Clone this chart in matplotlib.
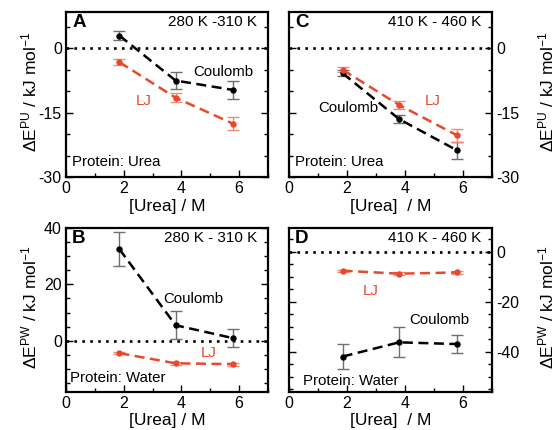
import matplotlib
matplotlib.use("Agg")
import matplotlib.pyplot as plt
from matplotlib.ticker import MultipleLocator

plt.rcParams['font.family'] = ['Liberation Sans', 'DejaVu Sans']
plt.rcParams['mathtext.fontset'] = 'custom'
plt.rcParams['mathtext.rm'] = 'Liberation Sans'
plt.rcParams['mathtext.it'] = 'Liberation Sans:italic'
plt.rcParams['mathtext.bf'] = 'Liberation Sans:bold'
plt.rcParams['axes.unicode_minus'] = False

# ---------------- data ----------------
urea = [1.85, 3.8, 5.8]

# Panel A: protein-urea, 280-310 K
A_coul = [3.0, -7.5, -9.7]
A_coul_err = [1.0, 2.0, 2.2]
A_lj = [-3.2, -11.5, -17.6]
A_lj_err = [0.7, 1.0, 1.5]

# Panel C: protein-urea, 410-460 K
C_coul = [-5.8, -16.5, -23.8]
C_coul_err = [0.7, 1.0, 2.0]
C_lj = [-5.0, -13.2, -20.3]
C_lj_err = [0.6, 1.0, 1.5]

# Panel B: protein-water, 280-310 K
B_coul = [32.5, 5.5, 0.9]
B_coul_err = [6.0, 5.0, 3.2]
B_lj = [-4.4, -8.0, -8.3]
B_lj_err = [0.4, 0.5, 0.5]

# Panel D: protein-water, 410-460 K
D_coul = [-42.0, -36.3, -37.0]
D_coul_err = [5.0, 6.0, 3.7]
D_lj = [-7.6, -8.8, -8.3]
D_lj_err = [0.4, 0.5, 0.5]

xticks = [0, 2, 4, 6]

RED = '#e8482c'
RED_ERR = '#f08a78'
GRAY_ERR = '#6e6e6e'

fig = plt.figure(figsize=(5.6, 4.3), dpi=100)

W = 202 / 560
H = 165 / 430
axA = fig.add_axes([66 / 560, (430 - 177) / 430, W, H])
axC = fig.add_axes([289 / 560, (430 - 177) / 430, 203 / 560, H])
axB = fig.add_axes([66 / 560, (430 - 391.5) / 430, W, 163.5 / 430])
axD = fig.add_axes([289 / 560, (430 - 391.5) / 430, 203 / 560, 163.5 / 430])


def style(ax, ylim, ymajor, yminor, right=False):
    ax.set_xlim(0, 7)
    ax.set_ylim(*ylim)
    ax.set_xticks(xticks)
    ax.xaxis.set_minor_locator(MultipleLocator(1))
    ax.yaxis.set_major_locator(MultipleLocator(ymajor))
    ax.yaxis.set_minor_locator(MultipleLocator(yminor))
    ax.tick_params(which='both', direction='in', left=True, right=True,
                   top=False, bottom=True, labelsize=11.5, width=1.0,
                   labelleft=not right, labelright=right, pad=3)
    ax.tick_params(which='major', length=5)
    ax.tick_params(which='minor', length=3)
    for s in ax.spines.values():
        s.set_linewidth(1.6)
    ax.axhline(0, color='k', ls=(0, (1, 2.0)), lw=1.9, zorder=1)
    ax.set_xlabel('[Urea] / M' if not right else '[Urea]  / M', fontsize=12.5,
                  labelpad=2)


def series(ax, y, err, color, ecolor):
    ax.errorbar(urea, y, yerr=err, color=color, ecolor=ecolor, ls=(0, (4, 2.2)),
                lw=1.8, marker='o', ms=3.6, capsize=4, elinewidth=1.0,
                capthick=1.0, zorder=3)


style(axA, (-30, 8.5), 15, 5)
style(axC, (-30, 8.5), 15, 5, right=True)
style(axB, (-18, 40), 20, 5)
style(axD, (-56, 9.5), 20, 5, right=True)

series(axA, A_coul, A_coul_err, 'k', GRAY_ERR)
series(axA, A_lj, A_lj_err, RED, RED_ERR)
series(axC, C_coul, C_coul_err, 'k', GRAY_ERR)
series(axC, C_lj, C_lj_err, RED, RED_ERR)
series(axB, B_coul, B_coul_err, 'k', GRAY_ERR)
series(axB, B_lj, B_lj_err, RED, RED_ERR)
series(axD, D_coul, D_coul_err, 'k', GRAY_ERR)
series(axD, D_lj, D_lj_err, RED, RED_ERR)

# panel letters & temperature ranges
for ax, letter, temp in [(axA, 'A', '280 K -310 K'), (axC, 'C', '410 K - 460 K'),
                         (axB, 'B', '280 K - 310 K'), (axD, 'D', '410 K - 460 K')]:
    ax.text(0.03, 0.985, letter, transform=ax.transAxes, ha='left', va='top',
            fontsize=13.5, fontweight='bold')
    ax.text(0.945, 0.94, temp, transform=ax.transAxes, ha='right', va='center',
            fontsize=11)

axA.text(0.03, 0.09, 'Protein: Urea', transform=axA.transAxes, fontsize=10.8, va='center')
axC.text(0.03, 0.09, 'Protein: Urea', transform=axC.transAxes, fontsize=10.8, va='center')
axB.text(0.02, 0.085, 'Protein: Water', transform=axB.transAxes, fontsize=10.8, va='center')
axD.text(0.07, 0.065, 'Protein: Water', transform=axD.transAxes, fontsize=10.8, va='center')

axA.text(5.45, -5.4, 'Coulomb', fontsize=10.8, ha='center', va='center')
axA.text(2.7, -12.2, 'LJ', fontsize=10.8, ha='center', va='center', color=RED)
axC.text(2.05, -13.8, 'Coulomb', fontsize=10.8, ha='center', va='center')
axC.text(4.95, -12.2, 'LJ', fontsize=10.8, ha='center', va='center', color=RED)
axB.text(4.4, 14.8, 'Coulomb', fontsize=10.8, ha='center', va='center')
axB.text(4.95, -4.3, 'LJ', fontsize=10.8, ha='center', va='center', color=RED)
axD.text(5.2, -27.5, 'Coulomb', fontsize=10.8, ha='center', va='center')
axD.text(2.8, -15.7, 'LJ', fontsize=10.8, ha='center', va='center', color=RED)

lab_pu = r'ΔE$^{\mathrm{PU}}$ / kJ mol$^{\mathrm{-1}}$'
lab_pw = r'ΔE$^{\mathrm{PW}}$ / kJ mol$^{\mathrm{-1}}$'
fig.text(0.052, 1 - 92 / 430, lab_pu, rotation=90, ha='center', va='center', fontsize=12.5)
fig.text(0.052, 1 - 307 / 430, lab_pw, rotation=90, ha='center', va='center', fontsize=12.5)
fig.text(0.975, 1 - 92 / 430, lab_pu, rotation=90, ha='center', va='center', fontsize=12.5)
fig.text(0.975, 1 - 307 / 430, lab_pw, rotation=90, ha='center', va='center', fontsize=12.5)

fig.savefig('out.png', dpi=100)
